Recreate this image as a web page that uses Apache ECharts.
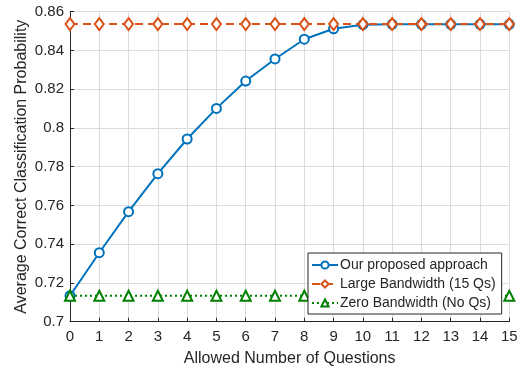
<!DOCTYPE html>
<html><head><meta charset="utf-8">
<script src="https://cdn.jsdelivr.net/npm/echarts@6/dist/echarts.min.js"></script>
<style>html,body{margin:0;padding:0;background:#fff}#c{width:521px;height:375px}</style>
</head><body><div id="c"></div>
<script>
const questions = [0,1,2,3,4,5,6,7,8,9,10,11,12,13,14,15];
const proposed = [0.7134,0.7356,0.7568,0.7764,0.7943,0.8101,0.8242,0.8356,0.8458,0.8512,0.8533,0.8535,0.8535,0.8535,0.8535,0.8535];
const largeBW = [0.8536,0.8536,0.8536,0.8536,0.8536,0.8536,0.8536,0.8536,0.8536,0.8536,0.8536,0.8536,0.8536,0.8536,0.8536,0.8536];
const zeroBW = [0.7134,0.7134,0.7134,0.7134,0.7134,0.7134,0.7134,0.7134,0.7134,0.7134,0.7134,0.7134,0.7134,0.7134,0.7134,0.7134];
const seriesNames = ['Our proposed approach','Large Bandwidth (15 Qs)','Zero Bandwidth (No Qs)'];

const font = "'Liberation Sans', Arial, Helvetica, sans-serif";
const txt = '#262626';
const pair = a => questions.map((q,i)=>[q,a[i]]);

const chart = echarts.init(document.getElementById('c'), null, {renderer:'canvas'});
chart.setOption({
  animation:false,
  textStyle:{fontFamily:font,color:txt},
  grid:{left:70,right:11.7,top:11.7,bottom:53.3,containLabel:false},
  xAxis:{type:'value',min:0,max:15,interval:1,
    name:'Allowed Number of Questions',nameLocation:'middle',nameGap:29,nameMoveOverlap:false,
    nameTextStyle:{fontSize:16,color:txt,fontFamily:font,verticalAlign:'top'},
    axisLine:{show:true,onZero:false,lineStyle:{color:txt,width:1}},
    axisTick:{show:true,inside:true,length:4,lineStyle:{color:txt}},
    axisLabel:{fontSize:15,color:txt,fontFamily:font,margin:8},
    splitLine:{show:true,lineStyle:{color:'#dcdcdc',width:1}}},
  yAxis:{type:'value',min:0.7,max:0.86,interval:0.02,
    name:'Average Correct Classification Probability',nameLocation:'middle',nameGap:40,nameMoveOverlap:false,
    nameTextStyle:{fontSize:16,color:txt,fontFamily:font},
    axisLine:{show:true,onZero:false,lineStyle:{color:txt,width:1}},
    axisTick:{show:true,inside:true,length:4,lineStyle:{color:txt}},
    axisLabel:{fontSize:15,color:txt,fontFamily:font,margin:6,formatter:v=>String(+v.toFixed(2))},
    splitLine:{show:true,lineStyle:{color:'#dcdcdc',width:1}}},
  legend:{left:308,top:253,orient:'vertical',itemGap:5,itemWidth:26,itemHeight:9,z:20,zlevel:1,
    padding:[5,6,4,3],backgroundColor:'#fff',borderColor:txt,borderWidth:1,
    textStyle:{fontSize:14,color:txt,fontFamily:font,padding:[0,0,0,-3]},
    data:seriesNames},
  series:[
    {name:seriesNames[0],type:'line',data:pair(proposed),symbol:'circle',symbolSize:9,
     lineStyle:{color:'#0072BD',width:2},
     itemStyle:{color:'#fff',borderColor:'#0072BD',borderWidth:2}, z:2},
    {name:seriesNames[1],type:'line',data:pair(largeBW),symbol:'diamond',symbolSize:[9,12],
     lineStyle:{color:'#D95319',width:2,type:[8,5]},
     itemStyle:{color:'#fff',borderColor:'#D95319',borderWidth:2}, z:3},
    {name:seriesNames[2],type:'line',data:pair(zeroBW),symbol:'triangle',symbolSize:10,
     lineStyle:{color:'#008000',width:2,type:[2,3]},
     itemStyle:{color:'#fff',borderColor:'#008000',borderWidth:2}, z:4}
  ]
});
</script></body></html>
